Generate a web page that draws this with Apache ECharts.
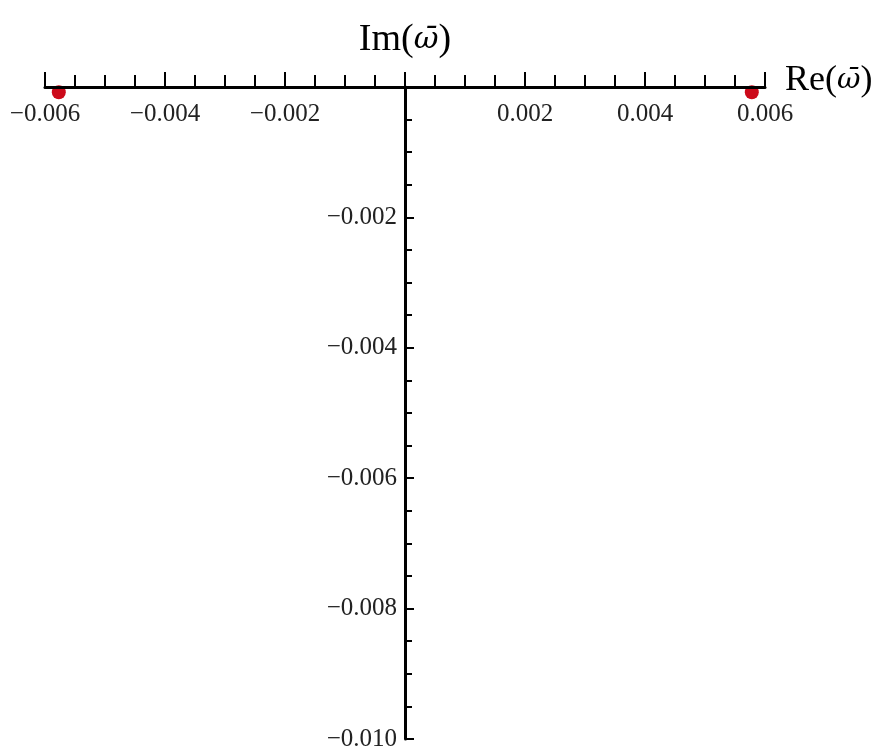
<!DOCTYPE html>
<html>
<head>
<meta charset="utf-8">
<script src="https://cdn.jsdelivr.net/npm/echarts@6/dist/echarts.min.js"></script>
<style>
html,body{margin:0;padding:0;background:#fff;}
#c{width:880px;height:756px;}
</style>
</head>
<body>
<div id="c"></div>
<script>
// Data
const rootsRe = [-0.00577, 0.00578];
const rootsIm = [-0.00008, -0.00008];
const xTickValues = [-0.006, -0.004, -0.002, 0, 0.002, 0.004, 0.006];
const xTickLabels = ['\u22120.006', '\u22120.004', '\u22120.002', '', '0.002', '0.004', '0.006'];
const yTickValues = [0, -0.002, -0.004, -0.006, -0.008, -0.010];
const yTickLabels = ['', '\u22120.002', '\u22120.004', '\u22120.006', '\u22120.008', '\u22120.010'];
const omegaBar = '\u03C9\u0304';
const xName = '{a|Re(}{w|' + omegaBar + '}{a|)}';
const yName = '{a|Im(}{w|' + omegaBar + '}{a|)}';

function lookup(values, labels, v) {
  for (let i = 0; i < values.length; i++) {
    if (Math.abs(values[i] - v) < 1e-9) return labels[i];
  }
  return '';
}

const W = 880, H = 756;
const gridLeft = 45, gridRight = 115, gridTop = 87, gridBottom = 17;
const xMin = -0.006, xMax = 0.006;
// distance from grid left edge to x = 0, so the y axis sits on x = 0
const yAxisOffset = -((0 - xMin) / (xMax - xMin)) * (W - gridLeft - gridRight);

const font = '"Liberation Serif", "Times New Roman", serif';
const nameRich = function (size) {
  return {
    a: {fontFamily: font, fontSize: size, color: '#000'},
    w: {fontFamily: '"DejaVu Serif", serif', fontStyle: 'italic', fontSize: size * 0.8, color: '#000'}
  };
};
const chart = echarts.init(document.getElementById('c'), null, {renderer: 'canvas'});
chart.setOption({
  backgroundColor: '#ffffff',
  animation: false,
  grid: {left: gridLeft, right: gridRight, top: gridTop, bottom: gridBottom, containLabel: false, outerBoundsMode: 'none'},
  xAxis: {
    type: 'value', position: 'top', min: xMin, max: xMax, interval: 0.002,
    z: 5,
    axisLine: {show: true, onZero: false, lineStyle: {color: '#000', width: 3}},
    axisTick: {show: true, inside: false, length: 15, lineStyle: {color: '#000', width: 2}},
    minorTick: {show: true, splitNumber: 4, length: 12, lineStyle: {color: '#000', width: 2}},
    splitLine: {show: false},
    minorSplitLine: {show: false},
    axisLabel: {
      inside: true, margin: 15, showMinLabel: true, showMaxLabel: true, hideOverlap: false,
      fontFamily: font, fontSize: 25, color: '#222',
      formatter: v => lookup(xTickValues, xTickLabels, v)
    },
    name: xName, nameLocation: 'end', nameGap: 20, nameMoveOverlap: false,
    nameTextStyle: {fontFamily: font, fontSize: 36, color: '#000', padding: [0, 0, 12, 0], rich: nameRich(36)}
  },
  yAxis: {
    type: 'value', position: 'left', offset: yAxisOffset, min: -0.010, max: 0, interval: 0.002,
    z: 5,
    axisLine: {show: true, onZero: false, lineStyle: {color: '#000', width: 3}},
    axisTick: {show: true, inside: true, length: 9, lineStyle: {color: '#000', width: 2}},
    minorTick: {show: true, splitNumber: 4, length: 7, lineStyle: {color: '#000', width: 2}},
    splitLine: {show: false},
    minorSplitLine: {show: false},
    axisLabel: {
      margin: 8, showMinLabel: true, showMaxLabel: true, hideOverlap: false,
      fontFamily: font, fontSize: 25, color: '#222', padding: [4, 0, 0, 0],
      formatter: v => lookup(yTickValues, yTickLabels, v)
    },
    name: yName, nameLocation: 'end', nameGap: 28, nameMoveOverlap: false,
    nameTextStyle: {fontFamily: font, fontSize: 38, color: '#000', align: 'center', rich: nameRich(38)}
  },
  series: [{
    type: 'scatter',
    data: rootsRe.map((x, i) => [x, rootsIm[i]]),
    symbol: 'circle', symbolSize: 14,
    itemStyle: {color: '#cc0a1a', opacity: 1},
    z: 2
  }]
});
</script>
</body>
</html>
